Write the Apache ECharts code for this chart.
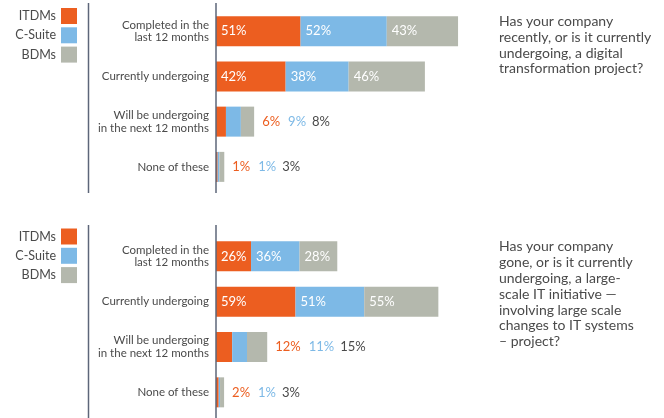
<!DOCTYPE html>
<html>
<head>
<meta charset="utf-8">
<script src="https://cdn.jsdelivr.net/npm/echarts@6/dist/echarts.min.js"></script>
<style>
html,body{margin:0;padding:0;background:#fff;}
#chart{width:664px;height:418px;}
</style>
</head>
<body>
<div id="chart"></div>
<script>
var categories = ['Completed in the\nlast 12 months', 'Currently undergoing', 'Will be undergoing\nin the next 12 months', 'None of these'];
var seriesNames = ['ITDMs', 'C-Suite', 'BDMs'];
// Panel 1: digital transformation project
var itdm1 = [51, 42, 6, 1];
var csuite1 = [52, 38, 9, 1];
var bdm1 = [43, 46, 8, 3];
// Panel 2: large-scale IT initiative
var itdm2 = [26, 59, 12, 2];
var csuite2 = [36, 51, 11, 1];
var bdm2 = [28, 55, 15, 3];
var question1 = 'Has your company\nrecently, or is it currently\nundergoing, a digital\ntransformation project?';
var question2 = 'Has your company\ngone, or is it currently\nundergoing, a large-\nscale IT initiative \u2014\ninvolving large scale\nchanges to IT systems\n\u2013 project?';

var COLORS = ['#EC5E20', '#7DB9E6', '#B4B8AD'];
var TEXT = '#4a4a4a';
var LINE = '#5d6679';
var FONT = 'Lato';

function build(gridIdx, arrs) {
  return arrs.map(function (arr, si) {
    return {
      name: seriesNames[si],
      type: 'bar',
      stack: 'p' + gridIdx,
      xAxisIndex: gridIdx,
      yAxisIndex: gridIdx,
      barWidth: 30,
      itemStyle: { color: COLORS[si] },
      data: arr.map(function (v, i) {
        var inside = arrs[0][i] >= 20;
        var item = { value: v };
        if (inside) {
          item.label = { show: true, position: 'insideLeft', distance: 5, color: '#fff',
            fontFamily: FONT, fontSize: 13, formatter: v + '%' };
        } else if (si === arrs.length - 1) {
          item.label = { show: true, position: 'right', distance: 8,
            fontFamily: FONT, fontSize: 13,
            formatter: '{a|' + arrs[0][i] + '%}{b|' + arrs[1][i] + '%}{c|' + arrs[2][i] + '%}',
            rich: {
              a: { color: COLORS[0], fontFamily: FONT, fontSize: 13, padding: [0, 8, 0, 0] },
              b: { color: '#7DB9E6', fontFamily: FONT, fontSize: 13, padding: [0, 6, 0, 0] },
              c: { color: TEXT, fontFamily: FONT, fontSize: 13 }
            } };
        } else {
          item.label = { show: false };
        }
        return item;
      })
    };
  });
}

function legends(topStart) {
  return seriesNames.map(function (n, i) {
    return {
      data: [n], orient: 'vertical', align: 'right', right: 587, top: topStart + i * 19.3,
      padding: 0, itemWidth: 16, itemHeight: 16, icon: 'rect', selectedMode: false,
      textStyle: { color: TEXT, fontFamily: FONT, fontSize: 12.5 }
    };
  });
}

function yAx(gi) {
  return {
    type: 'category', gridIndex: gi, data: categories, inverse: true,
    axisTick: { show: false },
    axisLine: { show: false },
    axisLabel: { color: TEXT, fontFamily: FONT, fontSize: 11.5, lineHeight: 12.5, margin: 7, align: 'right' }
  };
}
function xAx(gi, max) {
  return { type: 'value', gridIndex: gi, min: 0, max: max, show: false };
}

var chart = echarts.init(document.getElementById('chart'), null, { renderer: 'canvas' });
chart.setOption({
  animation: false,
  backgroundColor: '#fff',
  grid: [
    { left: 216, top: 8.5, width: 252, height: 181 },
    { left: 216, top: 233.7, width: 252, height: 181.3 }
  ],
  xAxis: [xAx(0, 152), xAx(1, 187)],
  yAxis: [yAx(0), yAx(1)],
  legend: legends(8).concat(legends(228.5)),
  title: [
    { text: question1, left: 499, top: 14, textStyle: { color: TEXT, fontFamily: FONT, fontSize: 14, fontWeight: 'normal', lineHeight: 15.7 }, padding: 0 },
    { text: question2, left: 499, top: 239, textStyle: { color: TEXT, fontFamily: FONT, fontSize: 14, fontWeight: 'normal', lineHeight: 15.8 }, padding: 0 }
  ],
  graphic: [
    { type: 'line', shape: { x1: 88.5, y1: 3, x2: 88.5, y2: 193 }, style: { stroke: LINE, lineWidth: 1.5 } },
    { type: 'line', shape: { x1: 88.5, y1: 225, x2: 88.5, y2: 418 }, style: { stroke: LINE, lineWidth: 1.5 } },
    { type: 'line', shape: { x1: 216, y1: 3, x2: 216, y2: 193 }, style: { stroke: LINE, lineWidth: 1.5 }, z: 10 },
    { type: 'line', shape: { x1: 216, y1: 225, x2: 216, y2: 418 }, style: { stroke: LINE, lineWidth: 1.5 }, z: 10 }
  ],
  series: build(0, [itdm1, csuite1, bdm1]).concat(build(1, [itdm2, csuite2, bdm2]))
});
</script>
</body>
</html>
